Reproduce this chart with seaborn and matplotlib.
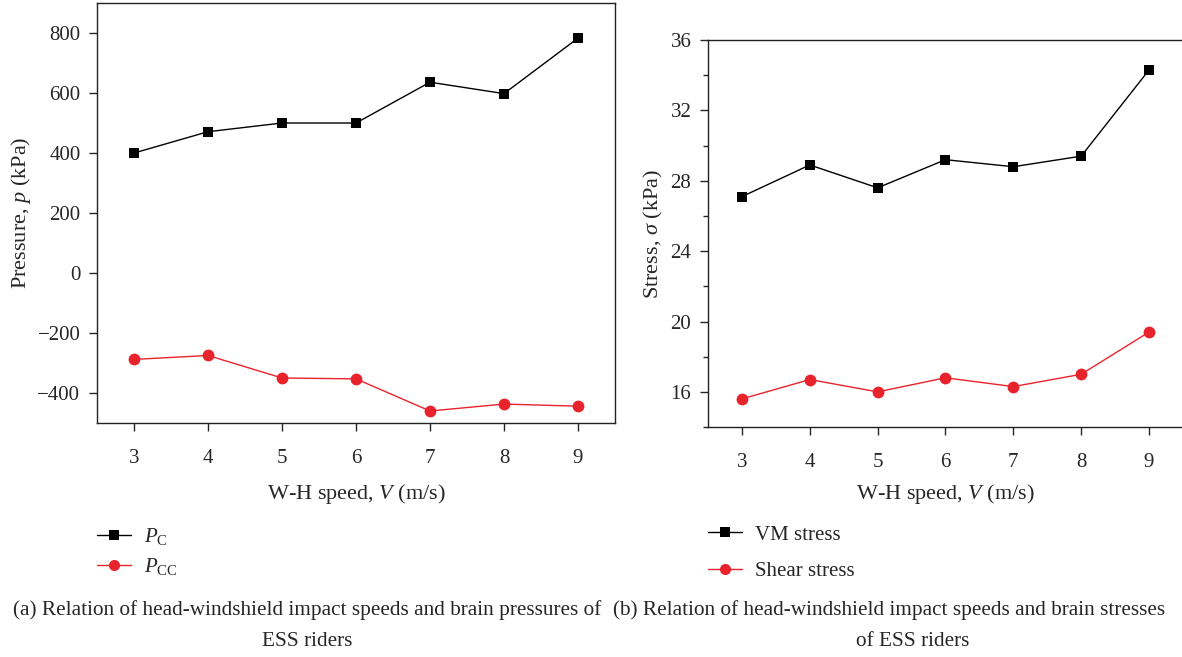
import matplotlib
matplotlib.use("Agg")
import matplotlib.pyplot as plt
from matplotlib.ticker import MultipleLocator
from matplotlib.lines import Line2D
import seaborn as sns
import pandas as pd

# Impact speeds (m/s)
speed = [3, 4, 5, 6, 7, 8, 9]

# Brain pressures (kPa)
p_c = [400, 471, 500, 500, 636, 598, 783]
p_cc = [-288, -275, -350, -353, -460, -437, -444]

# Brain stresses (kPa)
vm_stress = [27.1, 28.9, 27.6, 29.2, 28.8, 29.4, 34.3]
shear_stress = [15.6, 16.7, 16.0, 16.8, 16.3, 17.0, 19.4]

xticks = [3, 4, 5, 6, 7, 8, 9]
left_yticks = [-400, -200, 0, 200, 400, 600, 800]
right_yticks = [16, 20, 24, 28, 32, 36]

sns.set_style("ticks")
plt.rcParams["font.family"] = ["Liberation Serif", "DejaVu Serif"]
plt.rcParams["mathtext.fontset"] = "custom"
plt.rcParams["mathtext.rm"] = "Liberation Serif"
plt.rcParams["mathtext.it"] = "Liberation Serif:italic"
plt.rcParams["axes.edgecolor"] = "#222222"
plt.rcParams["axes.linewidth"] = 1.0

RED = "#e8232b"
FS = 15
FS_CAP = 15.3
FS_LABEL = 16

fig = plt.figure(figsize=(11.82, 6.57), dpi=100)
ax1 = fig.add_axes([0.0821, 0.3562, 0.5203 - 0.0821, 0.9954 - 0.3562])
ax2 = fig.add_axes([0.599, 0.350, 1.0008 - 0.599, 0.939 - 0.350])

df_p = pd.DataFrame({"V": speed, "PC": p_c, "PCC": p_cc})
df_s = pd.DataFrame({"V": speed, "VM": vm_stress, "SH": shear_stress})

line_kw = dict(linewidth=1.0, markeredgewidth=0)
sns.lineplot(data=df_p, x="V", y="PC", ax=ax1, color="black", marker="s",
             markersize=7.5, **line_kw)
sns.lineplot(data=df_p, x="V", y="PCC", ax=ax1, color=RED, marker="o",
             markersize=8.5, **line_kw)
sns.lineplot(data=df_s, x="V", y="VM", ax=ax2, color="black", marker="s",
             markersize=7.5, **line_kw)
sns.lineplot(data=df_s, x="V", y="SH", ax=ax2, color=RED, marker="o",
             markersize=8.5, **line_kw)

ax1.set_xlim(2.5, 9.5)
ax1.set_ylim(-500, 900)
ax1.set_yticks(left_yticks)
ax2.set_xlim(2.5, 9.5)
ax2.set_ylim(14, 36)
ax2.set_yticks(right_yticks)
ax2.yaxis.set_minor_locator(MultipleLocator(2))

for ax in (ax1, ax2):
    ax.set_xticks(xticks)
    for s in ("top", "right", "left", "bottom"):
        ax.spines[s].set_visible(True)
    ax.tick_params(axis="x", which="major", direction="out", length=6,
                   width=1.0, pad=13, labelsize=FS)
    ax.tick_params(axis="y", which="major", direction="out", length=6,
                   width=1.0, pad=6, labelsize=FS)
    ax.tick_params(axis="y", which="minor", direction="out", length=3.5,
                   width=1.0)

ax1.set_xlabel("W-H speed, $V$ (m/s)", fontsize=FS_LABEL, labelpad=10)
ax2.set_xlabel("W-H speed, $V$ (m/s)", fontsize=FS_LABEL, labelpad=7)
ax1.set_ylabel("Pressure, $p$ (kPa)", fontsize=FS_LABEL, labelpad=3)
ax2.set_ylabel("Stress, $\\sigma$ (kPa)", fontsize=FS_LABEL, labelpad=4)


def handles(labels):
    return [
        Line2D([], [], color="black", marker="s", markersize=7,
               markeredgewidth=0, linewidth=1.0, label=labels[0]),
        Line2D([], [], color=RED, marker="o", markersize=8,
               markeredgewidth=0, linewidth=1.0, label=labels[1]),
    ]


leg_kw = dict(loc="upper left", frameon=False, fontsize=FS, handlelength=1.65,
              handletextpad=0.6, borderaxespad=0, borderpad=0)
fig.legend(handles=handles(["$P_\\mathrm{C}$", "$P_\\mathrm{CC}$"]),
           bbox_to_anchor=(97 / 1182, 1 - 526 / 657), labelspacing=0.45,
           **leg_kw)
fig.legend(handles=handles(["VM stress", "Shear stress"]),
           bbox_to_anchor=(708 / 1182, 1 - 525 / 657), labelspacing=0.8,
           **leg_kw)

cap = dict(fontsize=FS_CAP, va="center")
fig.text(307 / 1182, 1 - 610 / 657,
         "(a) Relation of head-windshield impact speeds and brain pressures of",
         ha="center", **cap)
fig.text(307 / 1182, 1 - 641 / 657, "ESS riders", ha="center", **cap)
fig.text(613 / 1182, 1 - 610 / 657,
         "(b) Relation of head-windshield impact speeds and brain stresses",
         ha="left", **cap)
fig.text(913 / 1182, 1 - 641 / 657, "of ESS riders", ha="center", **cap)

fig.savefig("out.png", dpi=100)
